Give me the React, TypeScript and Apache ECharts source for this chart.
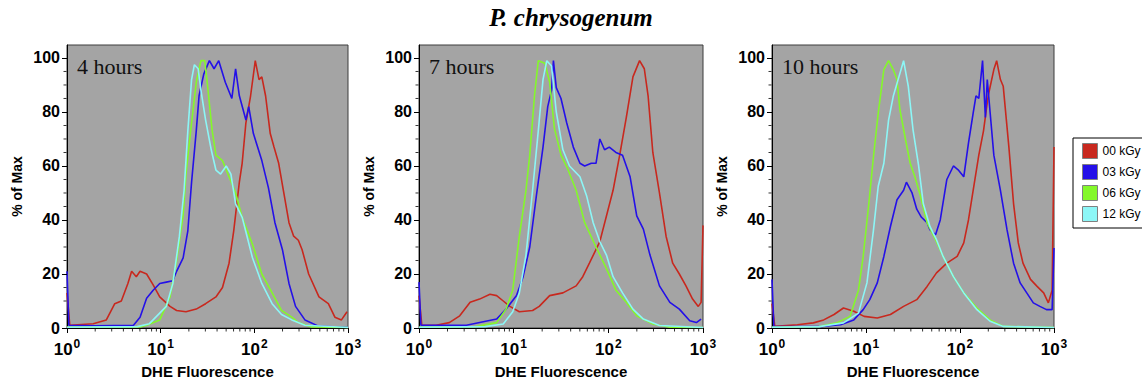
import React, { useEffect, useRef } from 'react';
import * as echarts from 'echarts';

// ---- categories / labels ----
const seriesNames = ['00 kGy', '03 kGy', '06 kGy', '12 kGy'];
const seriesColors = ['#c8281e', '#2410e8', '#84f82a', '#8cf6f6'];
const panelLabels = ['4 hours', '7 hours', '10 hours'];
const chartTitle = 'P. chrysogenum';
const xAxisName = 'DHE Fluorescence';
const yAxisName = '% of Max';
// x values are log10(DHE fluorescence); decades 10^0 .. 10^3
const xDecades = [0, 1, 2, 3];
const yTicks = [0, 20, 40, 60, 80, 100];
const yMinorTicks = [5, 10, 15, 25, 30, 35, 45, 50, 55, 65, 70, 75, 85, 90, 95];
const xMinorFactors = [2, 3, 4, 5, 6, 7, 8, 9];

// ---- data: [log10(fluorescence), % of max] ----
const h4_00 = [[0, 13], [0.03, 1], [0.28, 1.6], [0.42, 3], [0.51, 9], [0.58, 10], [0.65, 16.5], [0.69, 21], [0.74, 19], [0.78, 21], [0.85, 20], [0.92, 16], [0.99, 11.5], [1.10, 8], [1.17, 6.5], [1.27, 6], [1.38, 7], [1.48, 9], [1.59, 11.5], [1.66, 15], [1.73, 24], [1.78, 36], [1.84, 54], [1.87, 61], [1.91, 76], [1.96, 86], [2.01, 99], [2.05, 92], [2.08, 93], [2.12, 86], [2.17, 72], [2.21, 67], [2.26, 61], [2.31, 51], [2.37, 39], [2.42, 34], [2.47, 32.5], [2.51, 29], [2.58, 20], [2.69, 11.5], [2.79, 9], [2.86, 4], [2.93, 3], [2.99, 6]];
const h4_03 = [[0, 21], [0.02, 1], [0.3, 0.8], [0.71, 1], [0.78, 4], [0.85, 11], [0.92, 14], [0.99, 16.5], [1.06, 17], [1.13, 17.5], [1.17, 21], [1.24, 26], [1.29, 36], [1.33, 54], [1.38, 73], [1.41, 86], [1.46, 94], [1.52, 99], [1.57, 96], [1.62, 99], [1.69, 91], [1.76, 85], [1.80, 96], [1.84, 86], [1.91, 77], [1.94, 82], [1.99, 72], [2.08, 62], [2.15, 52], [2.22, 39], [2.30, 29], [2.37, 16.5], [2.44, 8], [2.54, 3], [2.69, 0.6], [3, 0.3]];
const h4_06 = [[0, 0.3], [0.78, 0.4], [0.85, 1], [0.99, 3], [1.10, 11.5], [1.17, 25], [1.24, 42], [1.27, 57], [1.33, 76], [1.38, 91], [1.43, 99], [1.47, 99], [1.50, 90], [1.55, 73], [1.59, 64], [1.66, 62], [1.73, 56], [1.80, 50], [1.87, 41], [1.98, 31], [2.08, 20], [2.19, 13], [2.29, 6.5], [2.40, 4], [2.47, 2], [2.61, 0.4], [3, 0.2]];
const h4_12 = [[0, 0.3], [0.75, 0.5], [0.88, 1.6], [1.06, 8], [1.13, 16.5], [1.20, 34], [1.25, 51], [1.29, 73], [1.33, 92], [1.36, 97.5], [1.40, 96], [1.43, 88], [1.48, 77], [1.54, 66], [1.59, 58.5], [1.64, 57], [1.70, 60], [1.75, 57], [1.80, 46], [1.87, 41], [1.98, 26], [2.08, 16.5], [2.19, 9], [2.29, 5], [2.40, 3], [2.54, 1], [3, 0.2]];

const h7_00 = [[0, 12], [0.03, 1], [0.18, 1], [0.32, 2], [0.43, 4.5], [0.54, 9.5], [0.64, 10.7], [0.75, 12.5], [0.82, 12], [0.89, 10], [0.96, 8], [1.06, 6], [1.20, 6.5], [1.27, 8], [1.38, 12], [1.52, 13], [1.66, 15.6], [1.73, 19], [1.80, 24], [1.91, 32], [1.98, 41.5], [2.05, 51], [2.12, 64], [2.19, 78], [2.26, 93], [2.33, 99], [2.38, 96], [2.42, 86], [2.47, 65], [2.54, 50], [2.61, 34], [2.68, 24], [2.75, 20], [2.82, 15.6], [2.89, 10.7], [2.95, 8], [2.98, 9.5], [3.0, 38]];
const h7_03 = [[0, 17], [0.02, 1], [0.5, 1], [0.82, 3.3], [0.92, 7], [1.03, 12], [1.10, 19], [1.17, 30], [1.24, 49], [1.31, 67], [1.36, 82], [1.40, 88], [1.42, 99], [1.45, 89], [1.50, 85], [1.56, 76], [1.63, 67], [1.70, 61], [1.75, 60], [1.82, 61], [1.87, 61], [1.91, 70], [1.96, 66], [2.01, 67], [2.08, 65], [2.15, 64], [2.23, 56], [2.30, 41.5], [2.37, 36.6], [2.44, 27], [2.54, 15.6], [2.65, 9.5], [2.75, 7], [2.86, 2.7], [2.93, 2], [2.98, 3.3]];
const h7_06 = [[0, 0.3], [0.6, 0.5], [0.82, 2], [0.92, 7], [0.99, 14], [1.06, 34], [1.13, 51], [1.17, 64], [1.22, 86], [1.26, 99], [1.33, 98], [1.38, 91], [1.43, 74], [1.50, 64], [1.57, 59], [1.66, 51], [1.75, 39], [1.87, 30], [1.98, 22], [2.08, 14], [2.19, 9.5], [2.30, 4.5], [2.47, 1.5], [2.65, 0.3], [3, 0.2]];
const h7_12 = [[0, 0.3], [0.7, 0.5], [0.89, 1.5], [0.99, 6], [1.06, 13], [1.13, 27], [1.20, 51], [1.26, 73], [1.31, 92], [1.35, 99], [1.40, 97], [1.45, 80], [1.52, 66], [1.59, 60], [1.70, 56], [1.77, 49], [1.84, 39], [1.91, 32], [1.98, 27], [2.05, 19], [2.15, 13], [2.26, 7], [2.37, 3.3], [2.54, 0.9], [3, 0.2]];

const h10_00 = [[0, 9], [0.03, 0.6], [0.27, 1.2], [0.44, 1.9], [0.55, 3], [0.66, 5], [0.76, 7.4], [0.87, 6.2], [0.98, 4.3], [1.12, 3.7], [1.26, 5], [1.40, 8], [1.54, 10.5], [1.65, 15.4], [1.75, 20.4], [1.86, 24], [1.97, 26.5], [2.04, 31.5], [2.09, 40], [2.14, 51], [2.20, 64], [2.25, 73], [2.30, 86], [2.36, 95.7], [2.39, 99], [2.43, 92], [2.46, 89.5], [2.52, 67], [2.57, 46], [2.62, 31.5], [2.67, 24], [2.75, 18], [2.82, 15.4], [2.89, 13], [2.94, 9.3], [2.98, 14], [3.0, 67]];
const h10_03 = [[0, 18], [0.02, 0.5], [0.5, 0.5], [0.73, 1.2], [0.87, 3], [0.97, 6.8], [1.04, 10.5], [1.12, 16.7], [1.19, 26.5], [1.26, 37.6], [1.33, 47.5], [1.40, 51], [1.43, 54], [1.49, 50], [1.54, 44], [1.59, 41], [1.65, 39], [1.68, 36.4], [1.74, 34.5], [1.79, 40], [1.86, 55], [1.93, 60], [1.98, 58.6], [2.04, 56], [2.09, 68.5], [2.14, 79.6], [2.17, 86], [2.20, 85], [2.24, 99], [2.27, 78], [2.29, 92], [2.32, 80], [2.36, 64], [2.43, 51], [2.50, 36.4], [2.57, 24], [2.64, 16.7], [2.71, 13], [2.78, 9.3], [2.85, 8], [2.92, 6.8], [2.98, 6.8], [3.0, 29.6]];
const h10_06 = [[0, 0.3], [0.5, 0.5], [0.69, 1.9], [0.83, 4.3], [0.92, 14], [0.97, 26.5], [1.03, 46], [1.08, 63.6], [1.13, 79.6], [1.19, 95.7], [1.24, 99], [1.29, 95.7], [1.33, 92], [1.36, 81], [1.42, 69.8], [1.47, 61], [1.52, 56], [1.58, 48.8], [1.65, 39], [1.74, 32.7], [1.82, 26.5], [1.93, 19], [2.04, 13], [2.18, 7.4], [2.32, 3], [2.46, 0.6], [3, 0.2]];
const h10_12 = [[0, 0.3], [0.5, 0.5], [0.76, 1.9], [0.92, 5.5], [1.01, 16.7], [1.08, 36.4], [1.13, 52.5], [1.19, 61], [1.24, 77], [1.29, 85.8], [1.35, 93], [1.40, 99], [1.45, 89.5], [1.50, 73.5], [1.56, 60], [1.61, 46], [1.68, 37.6], [1.75, 32.7], [1.82, 26.5], [1.93, 19], [2.04, 13], [2.18, 6.8], [2.32, 2.5], [2.46, 0.6], [3, 0.2]];

const panelData = [
  [h4_00, h4_03, h4_06, h4_12],
  [h7_00, h7_03, h7_06, h7_12],
  [h10_00, h10_03, h10_06, h10_12],
];

// ---- layout ----
const gridLefts = [67, 419, 772];
const gridWidths = [281, 284, 282];
const gridTop = 45;
const gridHeight = 283;
const Y_MAX = 104.8;

const sans = 'Liberation Sans';
const serif = 'Liberation Serif';

function buildOption() {
  const grid = gridLefts.map((l, i) => ({
    left: l, top: gridTop, width: gridWidths[i], height: gridHeight,
    show: true, backgroundColor: '#a4a4a4', borderColor: '#3c3c3c', borderWidth: 1,
  }));

  const xAxis = gridLefts.map((_, i) => ({
    type: 'value', gridIndex: i, min: 0, max: 3, interval: 1,
    axisLine: { show: true, lineStyle: { color: '#000' } },
    axisTick: { show: false },
    splitLine: { show: false },
    axisLabel: {
      margin: 10,
      formatter: (v: number) => `{b|10}{s|${Math.round(v)}}`,
      rich: {
        b: { fontSize: 17, fontWeight: 'bold', fontFamily: sans, color: '#000', verticalAlign: 'bottom' },
        s: { fontSize: 12, fontWeight: 'bold', fontFamily: sans, color: '#000', verticalAlign: 'bottom', padding: [0, 0, 8, 1] },
      },
    },
    name: xAxisName, nameLocation: 'middle', nameGap: 36,
    nameTextStyle: { fontSize: 15, fontWeight: 'bold', fontFamily: sans, color: '#000' },
  }));

  const yAxis = gridLefts.map((_, i) => ({
    type: 'value', gridIndex: i, min: 0, max: Y_MAX, interval: 20,
    axisLine: { show: true, lineStyle: { color: '#000' } },
    axisTick: { show: false },
    splitLine: { show: false },
    axisLabel: {
      margin: 7, customValues: yTicks,
      formatter: (v: number) => (yTicks.indexOf(v) >= 0 ? String(v) : ''),
      fontSize: 16, fontWeight: 'bold', fontFamily: sans, color: '#000',
    },
    name: yAxisName, nameLocation: 'middle', nameGap: 43, nameRotate: 90,
    nameTextStyle: { fontSize: 14, fontWeight: 'bold', fontFamily: sans, color: '#000' },
  }));

  const series: any[] = [];
  panelData.forEach((sets, gi) => {
    sets.forEach((d, si) => {
      series.push({
        type: 'line', name: seriesNames[si], xAxisIndex: gi, yAxisIndex: gi,
        data: d, showSymbol: false,
        lineStyle: { color: seriesColors[si], width: 1.6 },
        itemStyle: { color: seriesColors[si] },
        clip: true, z: 3,
      });
    });
  });

  const title: any[] = [
    { text: chartTitle, left: 'center', top: 5, padding: 0,
      textStyle: { fontSize: 25, fontWeight: 'bold', fontStyle: 'italic', fontFamily: serif, color: '#000' } },
  ];
  panelLabels.forEach((t, i) => {
    title.push({ text: t, left: gridLefts[i] + 10, top: 55, padding: 0,
      textStyle: { fontSize: 22, fontWeight: 'normal', fontFamily: serif, color: '#111' } });
  });

  return {
    animation: false,
    title,
    grid,
    xAxis,
    yAxis,
    legend: {
      data: seriesNames, orient: 'vertical', left: 1073, top: 138,
      icon: 'rect', itemWidth: 15, itemHeight: 15, itemGap: 5,
      itemStyle: { borderColor: '#808080', borderWidth: 1 },
      textStyle: { fontSize: 12, fontFamily: sans, color: '#000' },
      padding: [5, 3, 6, 9], borderColor: '#000', borderWidth: 1, borderRadius: 0,
      backgroundColor: '#fff', selectedMode: false,
    },
    series,
  };
}

// Overlay chart with identical grids/scales: draws only the axis ticks (major via axisTick, minor via scatter marks)
function buildTickOption() {
  const xMinorData: number[][] = [];
  xDecades.slice(0, 3).forEach((d) => xMinorFactors.forEach((k) => xMinorData.push([d + Math.log10(k), 0])));
  const yMinorData = yMinorTicks.map((v) => [0, v]);
  const tick = { show: true, length: 5, lineStyle: { color: '#000', width: 1 } };
  return {
    animation: false,
    grid: gridLefts.map((l, i) => ({ left: l, top: gridTop, width: gridWidths[i], height: gridHeight, show: false })),
    xAxis: gridLefts.map((_, i) => ({
      gridIndex: i, type: 'value', min: 0, max: 3, interval: 1,
      axisLine: { show: false }, axisTick: tick, axisLabel: { show: false }, splitLine: { show: false },
    })),
    yAxis: gridLefts.map((_, i) => ({
      gridIndex: i, type: 'value', min: 0, max: Y_MAX, interval: 20,
      axisLine: { show: false }, axisTick: { ...tick, customValues: yTicks },
      axisLabel: { show: false, customValues: yTicks }, splitLine: { show: false },
    })),
    series: gridLefts.flatMap((_, g) => [
      { type: 'scatter', xAxisIndex: g, yAxisIndex: g, data: xMinorData, symbol: 'rect', symbolSize: [1, 3], symbolOffset: [0, 2], clip: false, silent: true, itemStyle: { color: '#000' } },
      { type: 'scatter', xAxisIndex: g, yAxisIndex: g, data: yMinorData, symbol: 'rect', symbolSize: [3, 1], symbolOffset: [-2, 0], clip: false, silent: true, itemStyle: { color: '#000' } },
    ]),
  };
}

export default function App() {
  const ref = useRef<HTMLDivElement>(null);
  const tickRef = useRef<HTMLDivElement>(null);
  useEffect(() => {
    if (!ref.current || !tickRef.current) return;
    const chart = echarts.init(ref.current, null, { renderer: 'svg' });
    chart.setOption(buildOption() as any);
    const tickChart = echarts.init(tickRef.current, null, { renderer: 'svg' });
    tickChart.setOption(buildTickOption() as any);
    return () => {
      tickChart.dispose();
      chart.dispose();
    };
  }, []);
  return (
    <div style={{ position: 'absolute', left: 0, top: 0, width: 1142, height: 384 }}>
      <div ref={ref} style={{ position: 'absolute', left: 0, top: 0, width: 1142, height: 384 }} />
      <div ref={tickRef} style={{ position: 'absolute', left: 0, top: 0, width: 1142, height: 384, pointerEvents: 'none' }} />
    </div>
  );
}
